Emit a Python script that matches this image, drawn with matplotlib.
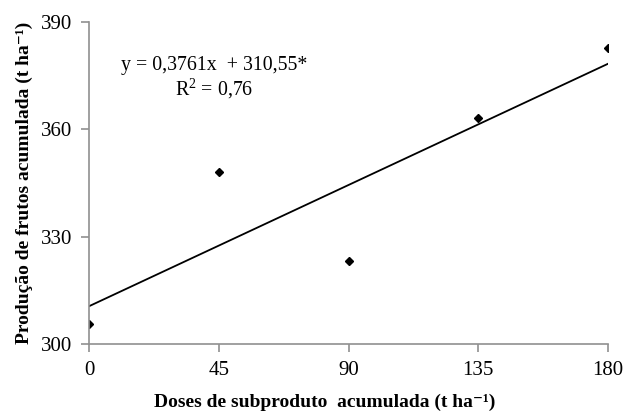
import matplotlib
matplotlib.use("Agg")
import matplotlib.pyplot as plt
import numpy as np

# dados
doses = [0, 45, 90, 135, 180]
producao = [305.5, 347.9, 323.3, 363.0, 382.7]

# reta de regressão informada no gráfico
a, b = 0.3761, 310.55
x_fit = np.array([0, 180])
y_fit = a * x_fit + b

plt.rcParams['font.family'] = ['Liberation Serif', 'DejaVu Serif']
plt.rcParams['mathtext.fontset'] = 'custom'
plt.rcParams['mathtext.rm'] = 'Liberation Serif'
plt.rcParams['mathtext.bf'] = 'Liberation Serif:bold'

fig = plt.figure(figsize=(6.25, 4.17), dpi=100)
ax = fig.add_axes([0.1424, 0.175, 0.8304, 0.773])

ax.plot(x_fit, y_fit, color='black', linewidth=1.3)
ax.plot(doses, producao, linestyle='none', marker='D', markersize=4.5, color='black')

ax.set_xlim(0, 180)
ax.set_ylim(300, 390)
ax.set_xticks([0, 45, 90, 135, 180])
ax.set_yticks([300, 330, 360, 390])

for s in ['top', 'right']:
    ax.spines[s].set_visible(False)
for s in ['left', 'bottom']:
    ax.spines[s].set_color('#909090')
    ax.spines[s].set_linewidth(1.2)
ax.tick_params(axis='both', direction='out', length=6, width=1.2, color='#909090',
               labelsize=15, pad=6)

ax.set_xlabel('Doses de subproduto  acumulada (t ha⁻¹)',
              fontsize=14, fontweight='bold', labelpad=12)
ax.xaxis.set_label_coords(0.455, -0.155)
ax.set_ylabel('Produção de frutos acumulada (t ha⁻¹)',
              fontsize=14, fontweight='bold', labelpad=6)

ax.text(43.5, 377.8, 'y = 0,3761x  + 310,55*', fontsize=14.3, ha='center', va='center')
ax.text(43.5, 371.3, r'R$^2$ = 0,76', fontsize=14.3, ha='center', va='center')

fig.savefig('out.png', dpi=100)
